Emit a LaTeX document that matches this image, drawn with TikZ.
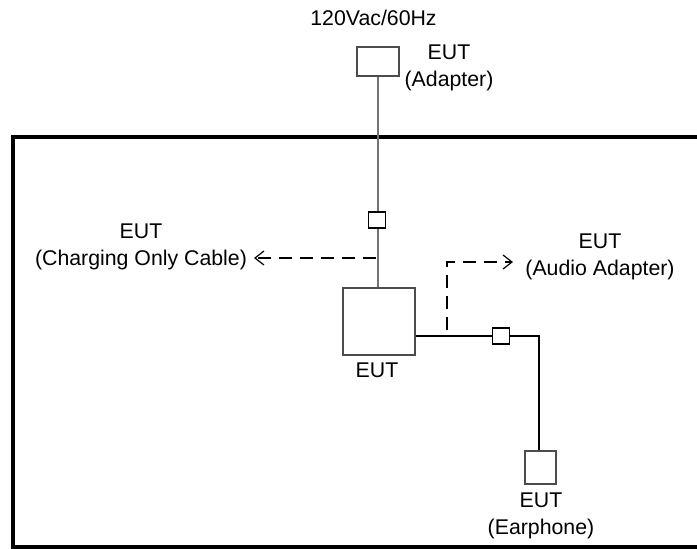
\documentclass[tikz,border=0pt]{standalone}
\usepackage{fontspec}
\setmainfont{Liberation Sans}
\usetikzlibrary{arrows.meta}
\begin{document}
\begin{tikzpicture}[x=1pt,y=-1pt,
  txt/.style={align=center,inner sep=0pt,font=\fontsize{21.3}{27}\selectfont},
  unit/.style={draw=black!70,line width=2pt,inner sep=0pt},
  plug/.style={draw=black,line width=1.5pt,inner sep=0pt,minimum width=17pt,minimum height=16pt,fill=white},
  grayline/.style={draw=black!55,line width=2pt},
  wire/.style={draw=black,line width=1.5pt},
  dashline/.style={draw=black,line width=1.5pt,dash pattern=on 13pt off 8pt,-{Straight Barb[length=9pt,width=14pt,line width=1.2pt]}},
  frame/.style={draw=black,line width=3.5pt}
]
\useasboundingbox (0,0) rectangle (697,549);
% outer frame
\draw[frame] (705,137) -- (13,137) -- (13,547) -- (705,547);
% nodes
\node[txt] (mains) at (373.5,18) {120Vac/60Hz};
\node[unit,minimum width=42pt,minimum height=29pt] (adapter) at (378,61.5) {};
\node[txt] (adlbl) at (449,67.5) {EUT\\(Adapter)};
\node[unit,minimum width=72pt,minimum height=67pt] (eut) at (379,321.5) {};
\node[txt] (eutlbl) at (377,370) {EUT};
\node[unit,minimum width=31pt,minimum height=33pt] (ear) at (540.5,467.5) {};
\node[txt] (earlbl) at (541,515.5) {EUT\\(Earphone)};
\node[txt] (chglbl) at (141,246.5) {EUT\\(Charging Only Cable)};
\node[txt] (audlbl) at (600,256.5) {EUT\\(Audio Adapter)};
% connections
\draw[grayline] (adapter.south) -- (adapter.south |- eut.north);
\node[plug] (c1) at (377,220) {};
\coordinate (tapL) at (376,258);
\coordinate (tipL) at (254,258);
\draw[dashline] (tapL) -- (tipL);
\coordinate (tapR) at (447,336);
\coordinate (bendR) at (447,262);
\coordinate (tipR) at (513,262);
\draw[wire] (eut.east |- tapR) -- (tapR);
\node[plug] (c2) at (501,336) {};
\coordinate (corner) at (539,336);
\draw[wire] (tapR) -- (c2.west);
\draw[wire] (c2.east) -- (corner) -- (corner |- ear.north);
\draw[dashline] (447,330) -- (bendR) -- (tipR);
\end{tikzpicture}
\end{document}
